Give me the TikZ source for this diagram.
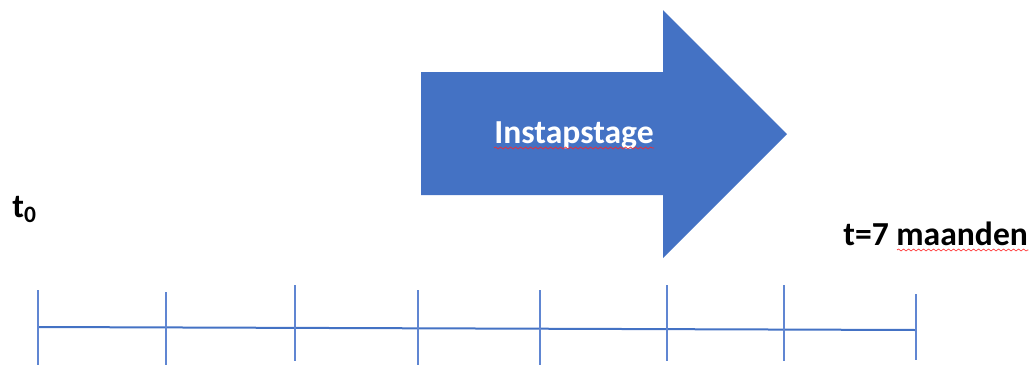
\documentclass[tikz,border=0pt]{standalone}
\usepackage{fontspec}
\setmainfont{Carlito}
\usepackage{tikz}
\usetikzlibrary{positioning, decorations.pathmorphing}
\definecolor{cB}{RGB}{68,114,196}
\definecolor{cT}{RGB}{96,134,210}

\begin{document}
\begin{tikzpicture}[x=0.5pt, y=-0.5pt, font=\fontsize{16.8}{20}\selectfont\bfseries]

    \tikzstyle{tickline} = [draw, cT, line width=0.7pt]
    \tikzstyle{axis} = [draw, cB, line width=1pt]
    \tikzstyle{label} = [inner sep=0pt, anchor=base west]
    \tikzstyle{spell} = [draw, red!85, line width=0.3pt, decorate, decoration={snake, amplitude=0.5pt, segment length=2.5pt}]

    \useasboundingbox (0,0) rectangle (1030,365);

    % Arrow
    \fill[cB] (421,72) -- (663,72) -- (663,10) -- (787,134) -- (663,258) -- (663,195) -- (421,195) -- cycle;
    \node[label, white] (stage) at (494,143) {Instapstage};
    \draw[spell] ([yshift=-2.5pt]stage.base west) -- ([yshift=-2.5pt]stage.base east);

    % Labels
    \node[label] (t0) at (12,217) {t\textsubscript{0}};
    \node[label] (t7) at (843,245) {t=7 maanden};
    \draw[spell] ([xshift=27pt, yshift=-2.5pt]t7.base west) -- ([yshift=-2.5pt]t7.base east);

    % Timeline
    \coordinate (start) at (38,327);
    \coordinate (end) at (916,330);
    \draw[axis] (start) -- (end);
    \foreach \x/\top/\bot in {38/290/365, 166/292/365, 295/285/361, 418/290/365, 540/290/365, 667/285/361, 784/285/361, 916/294/360}
        \draw[tickline] (\x,\top) -- (\x,\bot);
\end{tikzpicture}
\end{document}
